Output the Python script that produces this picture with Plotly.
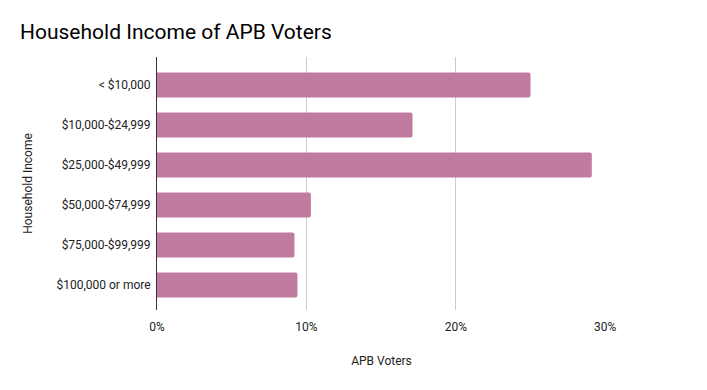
import plotly.graph_objects as go

categories = ["< $10,000", "$10,000-$24,999", "$25,000-$49,999",
              "$50,000-$74,999", "$75,000-$99,999", "$100,000 or more"]
values = [25.0, 17.1, 29.1, 10.3, 9.2, 9.4]
x_ticks = [0, 10, 20, 30]
x_tick_labels = ["0%", "10%", "20%", "30%"]

# the page body has an 8px default margin, so positions are offset by -8
fig = go.Figure(go.Bar(
    y=categories, x=values, orientation="h",
    marker=dict(color="#c27ba0", line=dict(width=0), cornerradius=2),
    width=0.63,
))

fig.update_layout(
    width=707, height=390,
    margin=dict(l=149, r=109, t=49, b=88, autoexpand=False),
    paper_bgcolor="white", plot_bgcolor="white",
    font=dict(family="Roboto", size=12, color="#222222"),
    title=dict(text="Household Income of APB Voters", x=12/707, xanchor="left",
               y=1 - 24/390, yanchor="middle",
               font=dict(family="Roboto", size=21, color="#000000")),
    showlegend=False,
    xaxis=dict(range=[0, 30.05], tickvals=x_ticks, ticktext=x_tick_labels,
               showgrid=True, gridcolor="#cccccc", gridwidth=1,
               zeroline=False, showline=False, ticks="",
               ticklabelstandoff=8,
               title=dict(text="APB Voters", standoff=23,
                          font=dict(size=12, color="#222222"))),
    yaxis=dict(categoryorder="array", categoryarray=categories,
               range=[5.625, -0.7], showgrid=False, zeroline=False,
               showline=True, linecolor="#333333", linewidth=1, ticks="",
               ticklabelstandoff=3,
               title=dict(text="Household Income", standoff=21,
                          font=dict(size=12, color="#222222"))),
)

fig.write_html("out.html")
